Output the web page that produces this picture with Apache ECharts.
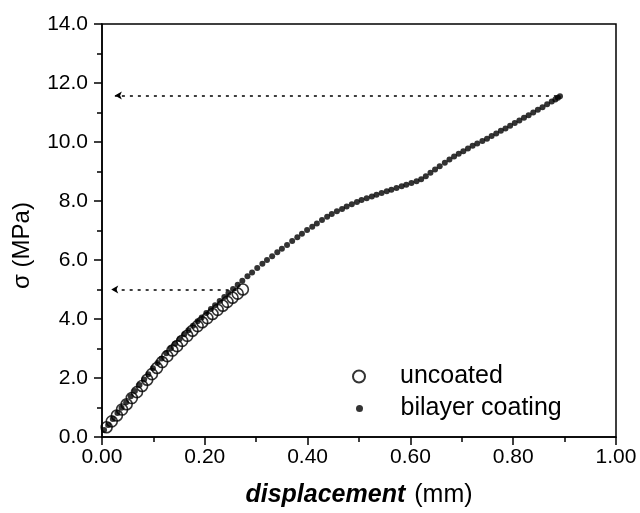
<!DOCTYPE html>
<html>
<head>
<meta charset="utf-8">
<script src="https://cdn.jsdelivr.net/npm/echarts@6/dist/echarts.min.js"></script>
<style>
  html, body { margin: 0; padding: 0; background: #fff; }
  #chart { width: 640px; height: 513px; }
</style>
</head>
<body>
<div id="chart"></div>
<script>
// values
const uncoatedX = [0.009, 0.019, 0.029, 0.039, 0.048, 0.058, 0.068, 0.078, 0.088, 0.097,
  0.107, 0.117, 0.127, 0.137, 0.146, 0.156, 0.166, 0.176, 0.186, 0.195,
  0.205, 0.215, 0.225, 0.235, 0.244, 0.254, 0.264, 0.274]
const uncoatedY = [0.33, 0.53, 0.73, 0.93, 1.11, 1.32, 1.52, 1.73, 1.94, 2.13,
  2.34, 2.54, 2.74, 2.93, 3.08, 3.26, 3.43, 3.60, 3.76, 3.89,
  4.03, 4.17, 4.31, 4.45, 4.58, 4.72, 4.86, 5.00]

const bilayerX = [0.004, 0.012, 0.021, 0.030, 0.038, 0.047, 0.056, 0.064, 0.073, 0.082,
  0.090, 0.099, 0.108, 0.116, 0.125, 0.134, 0.142, 0.151, 0.160, 0.168,
  0.177, 0.186, 0.194, 0.203, 0.212, 0.220, 0.229, 0.238, 0.246, 0.255,
  0.264, 0.273, 0.283, 0.292, 0.302, 0.312, 0.321, 0.331, 0.341, 0.350,
  0.360, 0.370, 0.380, 0.389, 0.399, 0.409, 0.418, 0.428, 0.438, 0.447,
  0.457, 0.467, 0.476, 0.486, 0.496, 0.505, 0.515, 0.525, 0.534, 0.544,
  0.554, 0.563, 0.573, 0.583, 0.592, 0.602, 0.612, 0.621, 0.630, 0.639,
  0.648, 0.657, 0.667, 0.676, 0.685, 0.694, 0.703, 0.712, 0.721, 0.730,
  0.740, 0.749, 0.758, 0.767, 0.776, 0.785, 0.794, 0.803, 0.812, 0.821,
  0.830, 0.839, 0.848, 0.857, 0.866, 0.875, 0.882, 0.887, 0.891]
const bilayerY = [0.24, 0.41, 0.61, 0.81, 0.99, 1.18, 1.38, 1.56, 1.76, 1.95,
  2.13, 2.33, 2.51, 2.66, 2.84, 3.01, 3.16, 3.32, 3.48, 3.62,
  3.77, 3.92, 4.05, 4.20, 4.34, 4.47, 4.61, 4.75, 4.88, 5.02,
  5.16, 5.30, 5.45, 5.58, 5.73, 5.87, 6.00, 6.13, 6.26, 6.38,
  6.51, 6.64, 6.77, 6.89, 7.02, 7.13, 7.24, 7.36, 7.47, 7.56,
  7.65, 7.73, 7.81, 7.89, 7.97, 8.03, 8.09, 8.15, 8.21, 8.27,
  8.33, 8.38, 8.44, 8.50, 8.55, 8.61, 8.67, 8.74, 8.84, 8.96,
  9.07, 9.18, 9.30, 9.41, 9.51, 9.60, 9.69, 9.78, 9.87, 9.95,
  10.03, 10.11, 10.20, 10.29, 10.38, 10.46, 10.55, 10.64, 10.73, 10.82,
  10.91, 11.00, 11.09, 11.18, 11.28, 11.37, 11.44, 11.50, 11.55]

// dotted arrows: [fromX, toX, y]
const arrowTop = [0.885, 0.025, 11.58]
const arrowLow = [0.262, 0.018, 5.0]

const font = 'Liberation Sans, Arial, sans-serif'

const zip = (xs, ys) => xs.map((x, i) => [x, ys[i]])

const arrowLine = a => ({
  silent: true,
  animation: false,
  symbol: ['none', 'arrow'],
  symbolSize: [6, 7],
  label: { show: false },
  lineStyle: { color: '#000', width: 1.5, type: [3, 5] },
  data: [[{ coord: [a[0], a[2]] }, { coord: [a[1], a[2]] }]]
})

const chart = echarts.init(document.getElementById('chart'))

chart.setOption({
  animation: false,
  textStyle: { fontFamily: font },
  grid: {
    left: 102, right: 24, top: 24, bottom: 74,
    show: true, borderColor: '#000', borderWidth: 1.5
  },
  legend: [
    {
      data: ['uncoated'],
      left: 347, top: 359,
      itemWidth: 72, itemHeight: 12,
      selectedMode: false,
      textStyle: { fontSize: 25, color: '#000', fontFamily: font }
    },
    {
      data: ['bilayer coating'],
      left: 351, top: 391,
      itemWidth: 72, itemHeight: 7,
      selectedMode: false,
      textStyle: { fontSize: 25, color: '#000', fontFamily: font }
    }
  ],
  xAxis: {
    type: 'value',
    min: 0, max: 1, interval: 0.2,
    name: '{b|displacement}{n|(mm)}',
    nameLocation: 'middle',
    nameGap: 46,
    nameTextStyle: {
      rich: {
        b: { fontSize: 25, fontWeight: 'bold', fontStyle: 'italic', color: '#000', fontFamily: font },
        n: { fontSize: 25, color: '#000', fontFamily: font, padding: [0, 0, 0, 9] }
      }
    },
    axisLine: { onZero: false, lineStyle: { color: '#000', width: 1.5 } },
    axisTick: { show: true, inside: false, length: 8, lineStyle: { color: '#000', width: 1.5 } },
    minorTick: { show: true, splitNumber: 2, length: 5, lineStyle: { color: '#000', width: 1.5 } },
    splitLine: { show: false },
    axisLabel: {
      margin: 10, fontSize: 21, color: '#000', fontFamily: font,
      formatter: v => v.toFixed(2)
    }
  },
  yAxis: {
    type: 'value',
    min: 0, max: 14, interval: 2,
    name: 'σ (MPa)',
    nameLocation: 'middle',
    nameGap: 68,
    nameTextStyle: { fontSize: 24, color: '#000', fontFamily: font, padding: [0, 30, 0, 0] },
    axisLine: { onZero: false, lineStyle: { color: '#000', width: 1.5 } },
    axisTick: { show: true, inside: false, length: 8, lineStyle: { color: '#000', width: 1.5 } },
    minorTick: { show: true, splitNumber: 2, length: 5, lineStyle: { color: '#000', width: 1.5 } },
    splitLine: { show: false },
    axisLabel: {
      margin: 14, fontSize: 21, color: '#000', fontFamily: font,
      formatter: v => v.toFixed(1)
    }
  },
  series: [
    {
      name: 'bilayer coating',
      type: 'scatter',
      symbol: 'circle',
      symbolSize: 6,
      itemStyle: { color: '#000' },
      data: zip(bilayerX, bilayerY),
      markLine: arrowLine(arrowTop),
      z: 2
    },
    {
      name: 'uncoated',
      type: 'scatter',
      symbol: 'circle',
      symbolSize: 11,
      itemStyle: { color: 'rgba(0,0,0,0)', borderColor: '#000', borderWidth: 1.6 },
      data: zip(uncoatedX, uncoatedY),
      markLine: arrowLine(arrowLow),
      z: 3
    }
  ]
})
</script>
</body>
</html>
